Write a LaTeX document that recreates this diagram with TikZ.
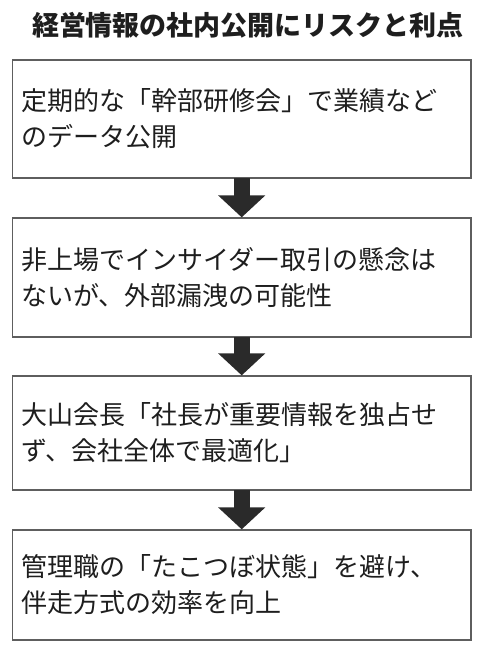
\documentclass[tikz,border=0pt]{standalone}
\usepackage{fontspec}
\setmainfont{Noto Sans CJK JP}
\usetikzlibrary{arrows.meta}
\definecolor{boxline}{HTML}{5E5E5E}
\definecolor{arrowc}{HTML}{2A2A2A}
\definecolor{txt}{HTML}{1E1E1E}
\begin{document}
\begin{tikzpicture}[x=1pt,y=-1pt,
  stepbox/.style={draw=boxline, line width=1.3pt, fill=white, rectangle,
    minimum width=458.7pt, inner xsep=9pt, inner ysep=0pt, text width=440.7pt,
    align=left, text=txt, font=\fontsize{26}{36}\selectfont},
  flowarrow/.style={draw=arrowc, line width=16pt,
    -{Triangle[width=46pt,length=22pt]}, shorten <=-0.5pt}
]
\useasboundingbox (0,0) rectangle (488,657);
\fill[white] (0,0) rectangle (488,657);
\node[font=\fontsize{27}{30}\selectfont\bfseries, text=txt] (title) at (248,25) {経営情報の社内公開にリスクと利点};
\node[stepbox, minimum height=118pt] (b1) at (241.7,119) {定期的な「幹部研修会」で業績など\\のデータ公開};
\node[stepbox, minimum height=119pt] (b2) at (241.7,277.5) {非上場でインサイダー取引の懸念は\\ないが、外部漏洩の可能性};
\node[stepbox, minimum height=114pt] (b3) at (241.7,433) {大山会長「社長が重要情報を独占せ\\ず、会社全体で最適化」};
\node[stepbox, minimum height=110pt] (b4) at (241.7,585) {管理職の「たこつぼ状態」を避け、\\伴走方式の効率を向上};
\draw[flowarrow] (b1.south) -- (b2.north);
\draw[flowarrow] (b2.south) -- (b3.north);
\draw[flowarrow] (b3.south) -- (b4.north);
\end{tikzpicture}
\end{document}
